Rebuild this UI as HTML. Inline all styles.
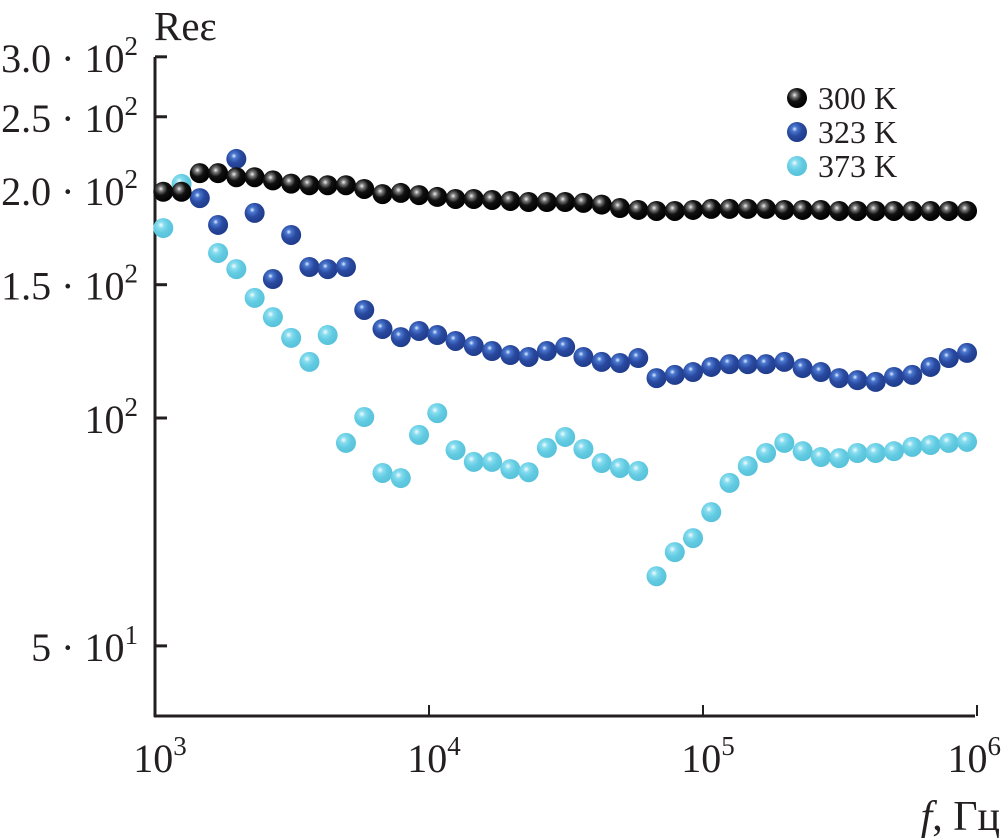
<!DOCTYPE html>
<html><head><meta charset="utf-8"><style>
html,body{margin:0;padding:0;background:#fff;}
svg{display:block;font-family:"Liberation Serif",serif;}
</style></head><body>
<svg id="chart" width="1003" height="838" viewBox="0 0 1003 838">
<defs>
<radialGradient id="gk" cx="0.38" cy="0.35" r="0.65"><stop offset="0" stop-color="#f0f0f0"/><stop offset="0.2" stop-color="#777"/><stop offset="0.5" stop-color="#111"/><stop offset="1" stop-color="#000"/></radialGradient>
<radialGradient id="gb" cx="0.38" cy="0.35" r="0.65"><stop offset="0" stop-color="#e8f0ff"/><stop offset="0.2" stop-color="#4a78d0"/><stop offset="0.55" stop-color="#2a4aa0"/><stop offset="1" stop-color="#1f3c8c"/></radialGradient>
<radialGradient id="gc" cx="0.38" cy="0.35" r="0.65"><stop offset="0" stop-color="#f4fcff"/><stop offset="0.25" stop-color="#86dcee"/><stop offset="0.6" stop-color="#62cbe2"/><stop offset="1" stop-color="#58c2da"/></radialGradient>
</defs>
<g id="axes" stroke="#231f20" stroke-width="3" fill="none">
<line x1="155" y1="57" x2="155" y2="717"/>
<line x1="154" y1="716" x2="975" y2="716"/>
</g>
<g id="ticks"></g>
<g id="points"></g>
<text x="154" y="40" font-size="41" fill="#231f20">Reε</text>
<text x="1000" y="830" font-size="42" fill="#231f20" text-anchor="end"><tspan font-style="italic">f</tspan>, Гц</text>
<g font-size="32" fill="#231f20">
<circle cx="797" cy="98" r="10" fill="url(#gk)"/>
<text x="818" y="109">300 K</text>
<circle cx="797" cy="132" r="10" fill="url(#gb)"/>
<text x="818" y="143">323 K</text>
<circle cx="797" cy="166" r="10" fill="url(#gc)"/>
<text x="818" y="177">373 K</text>
</g>
</svg>
<script>
const freqs = [1072,1250,1457,1699,1981,2310,2693,3140,3661,4268,4977,5803,6766,7889,9197,
10720,12500,14570,16990,19810,23100,26930,31400,36610,42680,49770,58030,67660,78890,91970,
107200,125000,145700,169900,198100,231000,269300,314000,366100,426800,497700,580300,676600,788900,919700];
const series300 = [199.0,199.0,210.6,210.6,208.0,208.0,206.0,204.0,203.0,203.0,203.0,200.7,197.6,198.3,197.0,
195.9,194.7,194.7,194.1,193.5,192.9,192.9,192.9,192.4,191.4,189.4,188.3,187.7,187.7,188.3,
188.9,188.9,188.9,188.9,188.3,188.3,188.3,187.7,187.7,187.7,187.7,187.7,187.7,187.7,187.7];
const series323 = [null,null,195.2,179.9,219.9,186.6,152.6,174.5,158.3,157.3,158.3,138.9,131.1,127.9,130.3,
128.7,126.4,124.5,122.6,121.1,120.4,122.6,124.1,120.4,118.6,118.2,120.0,112.9,114.0,115.0,
116.8,117.8,117.8,117.8,118.6,116.4,115.0,112.9,112.2,111.6,113.3,114.0,116.8,120.0,121.9];
const series373 = [178.2,203.8,null,165.2,157.3,144.1,135.9,127.6,118.6,128.7,92.7,100.3,84.6,83.3,95.0,
101.5,90.7,87.5,87.5,85.6,84.8,91.3,94.4,91.0,87.2,85.9,85.1,61.8,66.5,69.4,
75.1,82.1,86.4,89.9,92.7,90.4,88.8,88.5,89.9,89.9,90.4,91.6,92.1,92.7,93.0];
const yTickValues = [300,250,200,150,100,50];
const yTickLabels = ["3.0 · 10|2","2.5 · 10|2","2.0 · 10|2","1.5 · 10|2","10|2","5 · 10|1"];
const xTickValues = [1e3,1e4,1e5,1e6];
const xTickLabels = ["10|3","10|4","10|5","10|6"];

const NS = "http://www.w3.org/2000/svg";
function xs(f){ return 155 + 274*(Math.log10(f)-3); }
function ys(v){ return 418 - 757*Math.log10(v/100); }

const ticks = document.getElementById('ticks');
function mkLabel(str, x, y, anchor){
  const [base, sup] = str.split('|');
  const t = document.createElementNS(NS,'text');
  t.setAttribute('x', x); t.setAttribute('y', y);
  t.setAttribute('font-size','40'); t.setAttribute('fill','#231f20');
  t.setAttribute('text-anchor', anchor);
  t.appendChild(document.createTextNode(base));
  const s = document.createElementNS(NS,'tspan');
  s.setAttribute('dy','-17'); s.setAttribute('font-size','27');
  s.textContent = sup;
  t.appendChild(s);
  return t;
}
yTickValues.forEach((v,i)=>{
  const y = ys(v);
  const l = document.createElementNS(NS,'line');
  l.setAttribute('x1',155); l.setAttribute('x2',167); l.setAttribute('y1',y); l.setAttribute('y2',y);
  l.setAttribute('stroke','#231f20'); l.setAttribute('stroke-width','3');
  
  
  ticks.appendChild(l);
  const t = mkLabel(yTickLabels[i], 138, y+15, 'end');
  
  
  ticks.appendChild(t);
});
xTickValues.forEach((v,i)=>{
  const x = xs(v);
  const l = document.createElementNS(NS,'line');
  l.setAttribute('x1',x); l.setAttribute('x2',x); l.setAttribute('y1',716); l.setAttribute('y2',705);
  l.setAttribute('stroke','#231f20'); l.setAttribute('stroke-width','2');
  
  
  ticks.appendChild(l);
  const edge = x + 32 > 1000;
  const t = mkLabel(xTickLabels[i], edge ? 1001 : x+5, 772, edge ? 'end' : 'middle');
  
  
  ticks.appendChild(t);
});

const pts = document.getElementById('points');
function drawSeries(vals, grad, name){
  const g = document.createElementNS(NS,'g');
  
  
  vals.forEach((v,i)=>{
    if(v==null) return;
    const c = document.createElementNS(NS,'circle');
    c.setAttribute('cx', xs(freqs[i])); c.setAttribute('cy', ys(v)); c.setAttribute('r', 10);
    c.setAttribute('fill', 'url(#'+grad+')');
    
    
    g.appendChild(c);
  });
  pts.appendChild(g);
}
drawSeries(series373,'gc','series-373k');
drawSeries(series323,'gb','series-323k');
drawSeries(series300,'gk','series-300k');
</script>
</body></html>
